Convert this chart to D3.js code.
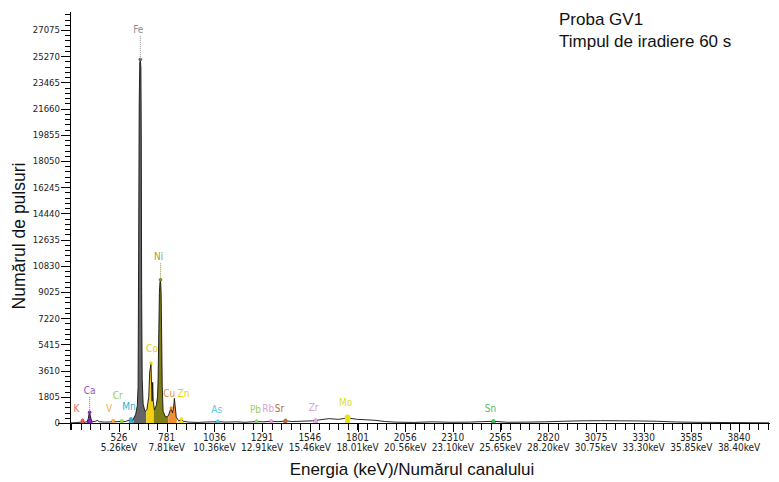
<!DOCTYPE html>
<html><head><meta charset="utf-8">
<script src="https://cdn.jsdelivr.net/npm/d3@7"></script>
<style>
body{margin:0;background:#fff;}
svg{display:block;}
</style></head>
<body>
<svg id="c" width="779" height="482"></svg>
<script>
// ---- data ----
const yTicks = [0,1805,3610,5415,7220,9025,10830,12635,14440,16245,18050,19855,21660,23465,25270,27075];
const xTickChannels = [526,781,1036,1291,1546,1801,2056,2310,2565,2820,3075,3330,3585,3840];
const xTickKeV = ["5.26keV","7.81keV","10.36keV","12.91keV","15.46keV","18.01keV","20.56keV","23.10keV","25.65keV","28.20keV","30.75keV","33.30keV","35.85keV","38.40keV"];

const specCh =     [265,300,320,331,340,355,362,366,369,373,378,385,400,410,420,450,480,495,510,541,560,590,600,615,624,628,631,634,637,640,643,645,647,650,655,665,675,685,690,697,700,703,706,709,715,725,732,735,739,742,745,748,751,754,757,762,775,790,800,805,812,818,822,826,832,845,860,870,900,950,1000,1054,1100,1150,1200,1261,1300,1339,1380,1416,1450,1500,1560,1577,1600,1650,1700,1748,1800,1850,1900,1950,2000,2100,2200,2300,2400,2527,2600,2700,2800,2900,3000,3100,3200,3300,3400,3500,3600,3700,3800,3900,4000];
const specCounts = [0,30,60,150,60,80,300,650,700,500,200,100,120,180,90,60,70,130,80,120,100,250,200,600,1200,2500,12000,22000,24800,25000,24500,20000,9000,3000,1300,800,900,1800,3500,4100,2600,1500,2800,1500,900,1200,1800,3000,6500,9000,9700,9830,9000,6000,2500,800,400,500,900,1000,700,1100,1700,1200,400,150,250,120,60,40,70,90,60,80,50,100,80,120,90,150,100,120,150,180,220,300,250,350,250,220,180,100,60,40,80,50,60,120,50,60,80,120,150,160,150,140,120,70,50,40,30,20,10];

const elements      = ["K","Ca","V","Cr","Mn","Fe","Co","Ni","Cu","Zn","As","Pb","Rb","Sr","Zr","Mo","Sn"];
const elementCh     = [331,369,495,541,590,640,697,748,805,860,1054,1261,1339,1416,1577,1748,2527];
const elementFrom   = [320,355,485,530,578,605,672,712,790,845,1040,1250,1330,1405,1565,1735,2515];
const elementTo     = [345,385,505,552,605,672,712,790,835,875,1065,1270,1348,1425,1590,1760,2540];
const elementColors = ["#e8604a","#8a22c8","#f0b450","#98d858","#30b4d8","#646468","#f2d010","#7e7e14","#f09030","#f0e020","#58c4e0","#98d868","#e8a0d0","#b87040","#e0a8e0","#e8e018","#40c060"];

// ---- layout ----
const svg = d3.select("#c");
const X0 = 70, X1 = 770, Y0 = 423;
const x = d3.scaleLinear().domain([526 - (119-X0)/0.1871, 526 + (X1-119)/0.1871]).range([X0, X1]);
const y = d3.scaleLinear().domain([0, 27075]).range([Y0, 30]);
const yTop = 12;

const pts = specCh.map((c,i)=>[c, specCounts[i]]);
const countAt = c => {
  for (let i=1;i<pts.length;i++){ if (pts[i][0]>=c){ const a=pts[i-1],b=pts[i]; return a[1]+(b[1]-a[1])*(c-a[0])/(b[0]-a[0]); } }
  return 0;
};

// fills
const area = d3.area().x(d=>x(d[0])).y0(y(0)).y1(d=>y(d[1]));
elements.forEach((el,i)=>{
  const f = elementFrom[i], t = elementTo[i];
  const seg = [[f,countAt(f)]].concat(pts.filter(p=>p[0]>f && p[0]<t)).concat([[t,countAt(t)]]);
  svg.append("path").attr("d", area(seg)).attr("fill", elementColors[i]).attr("stroke","none");
});

// spectrum line
const line = d3.line().x(d=>x(d[0])).y(d=>y(d[1]));
svg.append("path").attr("d", line(pts)).attr("fill","none").attr("stroke","#111").attr("stroke-width",0.9);

// element markers
elements.forEach((el,i)=>{
  svg.append("circle").attr("cx", x(elementCh[i])).attr("cy", y(countAt(elementCh[i]))-0.5)
    .attr("r", el==="Mo"?3:1.8).attr("fill", elementColors[i]);
});

// element labels
const lift = {Fe:27, Ni:20, Ca:19, Co:11, Cr:22, Mo:12, Cu:11, Zn:22};
const dx = {K:-6, V:-4, Cr:-4, Mn:-2, Co:1, Ni:-2, Cu:-2, Zn:2, Pb:-1, Rb:-3, Sr:-6, Zr:-2, Mo:-2, Sn:-3, As:-1, Fe:-2, Ca:0};
const labelColors = {Fe:"#8c8c8c", Ni:"#a0a030", Co:"#e8c818", Ca:"#9a50c8", K:"#e07060", V:"#f0b050", Cr:"#98d050", Mn:"#30b0d0", Cu:"#e89040", Zn:"#e8d020", As:"#60c8e0", Pb:"#98d060", Rb:"#e0a0d0", Sr:"#b07048", Zr:"#d8a0d8", Mo:"#e0e020", Sn:"#50c060"};
elements.forEach((el,i)=>{
  const px = x(elementCh[i]) + (dx[el]||0);
  const py = y(countAt(elementCh[i]));
  const l = lift[el] !== undefined ? lift[el] : 9;
  svg.append("text").attr("x", px).attr("y", py - l).attr("text-anchor","middle")
    .attr("font-family","DejaVu Sans Condensed, DejaVu Sans, sans-serif").attr("font-size",10)
    .attr("fill", labelColors[el]).text(el);
  if (el==="Fe"||el==="Ni"||el==="Ca") {
    svg.append("line").attr("x1", x(elementCh[i])).attr("x2", x(elementCh[i]))
      .attr("y1", py - l + 3).attr("y2", py).attr("stroke", labelColors[el])
      .attr("stroke-width",1).attr("stroke-dasharray","1,1");
  }
});

// y axis
const ax = svg.append("g").attr("stroke","#000").attr("stroke-width",1);
ax.append("line").attr("x1",X0+0.5).attr("x2",X0+0.5).attr("y1",yTop).attr("y2",Y0+7);
const yMinor = [];
for (let v=0; v<=y.invert(yTop); v+=1805/5) yMinor.push(v);
yMinor.forEach(v=>{ ax.append("line").attr("x1",X0-5).attr("x2",X0).attr("y1",Math.round(y(v))+0.5).attr("y2",Math.round(y(v))+0.5); });
yTicks.forEach(v=>{
  ax.append("line").attr("x1",X0-9).attr("x2",X0).attr("y1",Math.round(y(v))+0.5).attr("y2",Math.round(y(v))+0.5);
  svg.append("text").attr("x",X0-10).attr("y",y(v)+3.4).attr("text-anchor","end")
    .attr("font-family","DejaVu Sans Condensed, DejaVu Sans, sans-serif").attr("font-size",9.5).attr("fill","#222").text(v);
});

// x axis
ax.append("line").attr("x1",X0-12).attr("x2",X1).attr("y1",Y0+0.5).attr("y2",Y0+0.5);
const step = (xTickChannels[xTickChannels.length-1]-xTickChannels[0])/(xTickChannels.length-1)/5;
const xMinor = [];
for (let c=xTickChannels[0]; c>=x.domain()[0]; c-=step) xMinor.push(c);
for (let c=xTickChannels[0]+step; c<=x.domain()[1]; c+=step) xMinor.push(c);
xMinor.forEach(c=>{ const px=Math.round(x(c))+0.5; ax.append("line").attr("x1",px).attr("x2",px).attr("y1",Y0).attr("y2",Y0+7); });
xTickChannels.forEach((c,i)=>{
  const px = x(c);
  ax.append("line").attr("x1",Math.round(px)+0.5).attr("x2",Math.round(px)+0.5).attr("y1",Y0).attr("y2",Y0+9);
  svg.append("text").attr("x",px).attr("y",441).attr("text-anchor","middle")
    .attr("font-family","DejaVu Sans Condensed, DejaVu Sans, sans-serif").attr("font-size",10).attr("fill","#222").text(c);
  svg.append("text").attr("x",px).attr("y",451).attr("text-anchor","middle")
    .attr("font-family","DejaVu Sans Condensed, DejaVu Sans, sans-serif").attr("font-size",10).attr("fill","#222").text(xTickKeV[i]);
});

// titles
svg.append("text").attr("transform","translate(25,236) rotate(-90)").attr("text-anchor","middle")
  .attr("font-family","Liberation Sans, Arial, sans-serif").attr("font-size",17.5).attr("fill","#111").text("Numărul de pulsuri");
svg.append("text").attr("x",412).attr("y",475).attr("text-anchor","middle")
  .attr("font-family","Liberation Sans, Arial, sans-serif").attr("font-size",17).attr("fill","#111").text("Energia (keV)/Numărul canalului");
svg.append("text").attr("x",559).attr("y",25)
  .attr("font-family","Liberation Sans, Arial, sans-serif").attr("font-size",17).attr("fill","#111").text("Proba GV1");
svg.append("text").attr("x",559).attr("y",47)
  .attr("font-family","Liberation Sans, Arial, sans-serif").attr("font-size",17).attr("fill","#111").text("Timpul de iradiere 60 s");
</script>
</body></html>
